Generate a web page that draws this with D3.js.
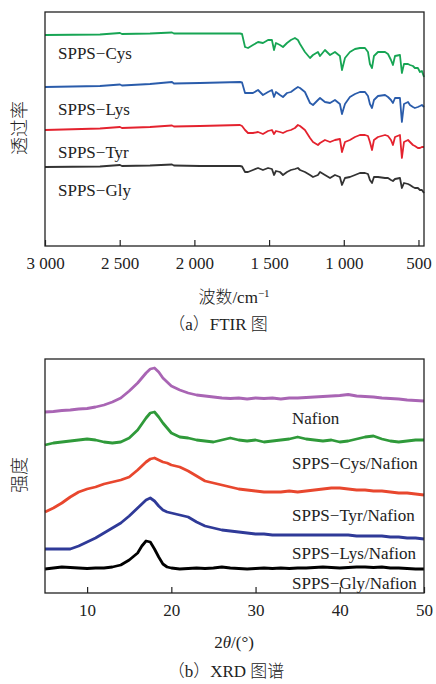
<!DOCTYPE html>
<html><head><meta charset="utf-8">
<script src="https://cdn.jsdelivr.net/npm/d3@7"></script>
<style>
html,body{margin:0;padding:0;background:#fff;}
svg{display:block;}
</style></head>
<body>
<svg id="chart" width="436" height="684"></svg>
<script>
// ---------- FTIR data (transmittance, arbitrary offset units) ----------
const ftirWavenumbers = [3000,2632,2498,2485,2297,2150,2137,1963,1695,1681,1661,1641,1608,1574,1541,1507,1481,1467,1454,1427,1407,1380,1354,1327,1307,1293,1260,1226,1206,1173,1159,1126,1092,1059,1026,1012,992,959,925,892,858,838,825,811,798,771,724,704,684,671,657,624,611,597,570,557,537,524,504,490,477,463];
const ftirCys = [211,211.5,213,212,212.5,213.5,212.5,212.5,212.5,212,199,198,201,204,203,206,206,196,203,201,199,203,206,208,206,202,194,188,191,194,190,196,191,194,190,176,188,194,197,198,198,194,182,178,190,194,194,192,186,181,190,191,173,182,182,181,180,178,178,174,175,169];
const ftirLys = [159,160,161.5,160.5,162,164,162.5,163,164,163.5,153,153,153,156,151,154,156,149,154,151,149,153,154,157,159,158,154,143,141,146,148,144,143,146,142,132,142,149,152,154,154,150,142,138,146,150,151,149,146,143,148,148,124,142,144,141,139,138,139,140,141,139];
const ftirTyr = [116,117.5,119,118,119,120.5,119.5,120,121,120,116,113,113,114,112,115,116,112,115,114,113,115,116,118,121,120,116,108,104,101,103,106,104,106,107,94,104,106,109,111,111,110,104,96,106,109,111,110,106,101,109,111,88,104,106,104,101,100,98,98,99,99];
const ftirGly = [79,79.5,81,80,80.5,81.5,80.5,80,80,79.5,74,74,76,78,76,78,77,71,75,74,71,74,76,77,78,76,74,71,69,71,74,71,68,71,69,61,68,69,71,73,73,72,66,63,69,69,68,68,66,65,67,68,58,63,62,61,59,58,58,56,56,53];
const ftirNames = ["SPPS\u2212Cys","SPPS\u2212Lys","SPPS\u2212Tyr","SPPS\u2212Gly"];
const ftirLabelLevels = [193,137,94,56];
const ftirTicks = [3000,2500,2000,1500,1000,500];

// ---------- XRD data (intensity, arbitrary offset units) ----------
const xrdAngles = [5,6,7,8,9,10,11,12,13,14,15,16,16.5,17,17.5,18,18.5,19,19.5,20,21,22,23,24,25,26,27,28,29,30,31,32,33,34,35,36,37,38,39,40,41,42,43,44,45,46,47,48,49,50];
const xrdNafion = [181,181.5,182.5,183,184,184.5,186,188,191,195,202,210,215,220,224,225,221,215,211,207,203,200,198,197,196,195,194.5,195,194,195,194.5,195,194,195,195,195.5,196,196.5,197,197.5,198.5,197,196.5,196,195,194.5,194,193,192.5,192];
const xrdCys = [148,150,151,152,153,154,153,151,150,151,155,163,169,175,180,181,176,170,165,160,156,155,153,152,151,153,155,153,152,153,151,152,153,154,156,154,153,152,153,151,152,154,156,157,154,152,151,152,153,153];
const xrdTyr = [81,85,90,96,101,104,106,109,111,113,116,123,127,131,134,135,133,131,130,128,126,122,117,112,110,108,106,104,103,102,101,101,101,102,101,102,103,104,105,105,104,103,103,102,102,101,100,100,99,98];
const xrdLys = [44,44,44,44,47,51,55,60,65,70,77,85,89,93,95,92,87,83,81,80,78,76,71,67,65,63,62,61,60,59,59,58,58,58,58,58,58,58,58,58,58,57,57,57,57,56,56,55,55,54];
const xrdGly = [24,25,26,25.5,25,24.5,25,25,26,28,33,40,47,52,51,44,36,29,26,25,24,24.5,25,24.5,25,26,25,24.5,24,24.5,25,24.5,25,24.5,25,25,25.5,26,25.5,25,25.5,26,26,25.5,26,25,25,24.5,24,24];
const xrdNames = ["Nafion","SPPS\u2212Cys/Nafion","SPPS\u2212Tyr/Nafion","SPPS\u2212Lys/Nafion","SPPS\u2212Gly/Nafion"];
const xrdLabelLevels = [175,130,78,40,10];
const xrdTicks = [10,20,30,40,50];

const svg = d3.select("#chart");
const serif = "'Liberation Serif','Times New Roman',serif";
const cjk = "'Noto Sans CJK SC','Noto Sans CJK JP',sans-serif";

function panel(cfg){
  const {left,right,top,bottom,xDomain,yDomain,ticks,fmt} = cfg;
  const x = d3.scaleLinear().domain(xDomain).range([left,right]);
  const y = d3.scaleLinear().domain(yDomain).range([bottom,top]);
  const g = svg.append("g");
  const line = d3.line().x(d=>x(d[0])).y(d=>y(d[1])).curve(d3.curveLinear);
  cfg.series.forEach(s=>{
    g.append("path").datum(cfg.xs.map((v,i)=>[v,s.values[i]]))
      .attr("d",line).attr("fill","none").attr("stroke",s.color)
      .attr("stroke-width",cfg.lw).attr("stroke-linejoin","round");
  });
  cfg.series.forEach(s=>{
    g.append("text").attr("x",cfg.labelX).attr("y",y(s.level))
      .attr("dy","0.35em").style("font-family",serif).style("font-size","17px")
      .attr("fill","#222").text(s.name);
  });
  const ax = g.append("g").attr("transform",`translate(0,${bottom})`)
    .call(d3.axisBottom(x).tickValues(ticks).tickFormat(fmt)
      .tickSizeInner(-6).tickSizeOuter(0).tickPadding(11));
  ax.attr("font-family",null).attr("font-size",null);
  ax.select(".domain").remove();
  ax.selectAll(".tick line").attr("stroke","#222").attr("stroke-width",1.2);
  ax.selectAll(".tick text").style("font-family",serif).style("font-size","17px").attr("fill","#222");
  g.append("rect").attr("x",left).attr("y",top).attr("width",right-left).attr("height",bottom-top)
    .attr("fill","none").attr("stroke","#222").attr("stroke-width",1.3);
  return {x,y};
}

// FTIR panel
panel({left:45,right:424,top:12,bottom:246,xDomain:[3000,463],yDomain:[0,234],
  ticks:ftirTicks,fmt:d=>d3.format(",")(d).replace(","," "),lw:1.8,labelX:58,
  xs:ftirWavenumbers,
  series:[
    {name:ftirNames[0],values:ftirCys,color:"#17a554",level:ftirLabelLevels[0]},
    {name:ftirNames[1],values:ftirLys,color:"#2a5cab",level:ftirLabelLevels[1]},
    {name:ftirNames[2],values:ftirTyr,color:"#e4222e",level:ftirLabelLevels[2]},
    {name:ftirNames[3],values:ftirGly,color:"#333333",level:ftirLabelLevels[3]}
  ]});

// XRD panel
panel({left:45,right:424,top:359,bottom:593,xDomain:[5,50],yDomain:[0,234],
  ticks:xrdTicks,fmt:d3.format("d"),lw:2.8,labelX:292,
  xs:xrdAngles,
  series:[
    {name:xrdNames[0],values:xrdNafion,color:"#a965b4",level:xrdLabelLevels[0]},
    {name:xrdNames[1],values:xrdCys,color:"#2f9a3a",level:xrdLabelLevels[1]},
    {name:xrdNames[2],values:xrdTyr,color:"#e8472e",level:xrdLabelLevels[2]},
    {name:xrdNames[3],values:xrdLys,color:"#2f3a98",level:xrdLabelLevels[3]},
    {name:xrdNames[4],values:xrdGly,color:"#000000",level:xrdLabelLevels[4]}
  ]});

// Axis titles and captions
function txt(x,y,str,fam,size,rot){
  const t = svg.append("text").attr("x",x).attr("y",y).attr("text-anchor","middle")
    .attr("dy","0.35em").style("font-family",fam).style("font-size",size+"px").attr("fill","#222");
  if(rot) t.attr("transform",`rotate(-90,${x},${y})`);
  if(str) t.text(str);
  return t;
}
txt(20,128,"透过率",cjk,18,true).style("font-weight","300");
txt(20,475,"强度",cjk,18,true).style("font-weight","300");
const xt1 = txt(234,297,"",cjk,17);
xt1.append("tspan").style("font-weight","300").text("波数");
xt1.append("tspan").style("font-family",serif).text("/cm");
xt1.append("tspan").style("font-family",serif).style("font-size","11px").attr("dy","-0.5em").text("−1");
const xt2 = txt(234,642,"",serif,17);
xt2.append("tspan").text("2");
xt2.append("tspan").style("font-style","italic").text("θ");
xt2.append("tspan").text("/(°)");
const c1 = txt(218,324,"",cjk,17);
c1.append("tspan").style("font-weight","300").text("（");
c1.append("tspan").style("font-family",serif).text("a");
c1.append("tspan").style("font-weight","300").text("）");
c1.append("tspan").style("font-family",serif).text("FTIR ");
c1.append("tspan").style("font-weight","300").text("图");
const c2 = txt(226,671,"",cjk,17);
c2.append("tspan").style("font-weight","300").text("（");
c2.append("tspan").style("font-family",serif).text("b");
c2.append("tspan").style("font-weight","300").text("）");
c2.append("tspan").style("font-family",serif).text("XRD ");
c2.append("tspan").style("font-weight","300").text("图谱");
</script>
</body></html>
